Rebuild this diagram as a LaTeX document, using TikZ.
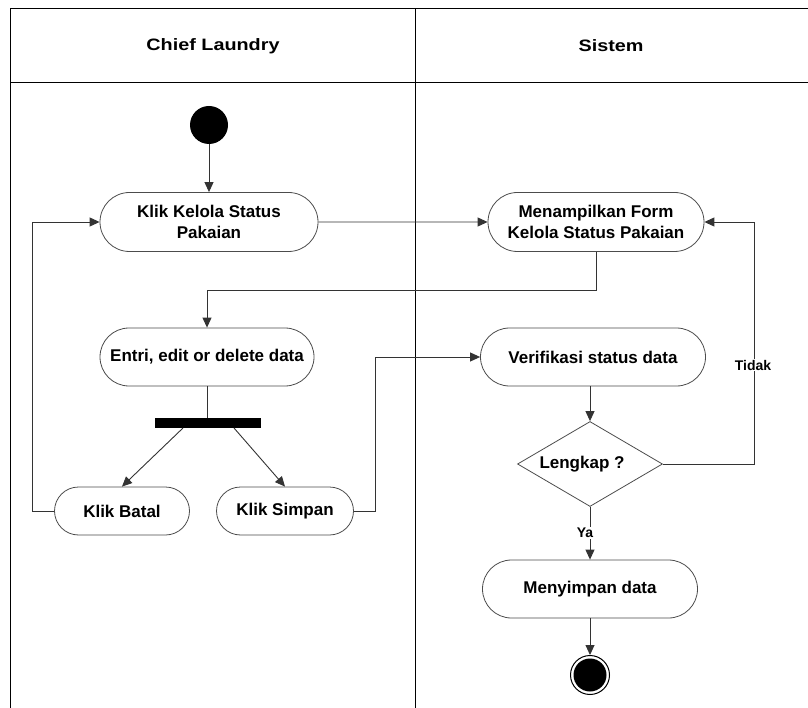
\documentclass[tikz,border=0pt]{standalone}
\usepackage{fontspec}
\setmainfont{Liberation Sans}
\newfontfamily\widefont[FakeStretch=1.2]{Liberation Sans}
\usetikzlibrary{arrows.meta,shapes.misc,shapes.geometric}

\tikzset{
  lane/.style={line width=1pt, draw=black},
  action/.style={rounded rectangle, draw=black!70, line width=0.8pt, fill=white,
    align=center, font=\bfseries\fontsize{17}{21}\selectfont, inner sep=2pt},
  decision/.style={diamond, draw=black!70, line width=0.8pt, fill=white,
    minimum width=145pt, minimum height=85pt, inner sep=0pt,
    font=\bfseries\fontsize{17}{21}\selectfont},
  bar/.style={rectangle, fill=black, minimum width=106pt, minimum height=10pt, inner sep=0pt},
  startnode/.style={circle, fill=black, minimum size=38pt, inner sep=0pt},
  flow/.style={draw=black!80, line width=0.9pt, -{Triangle[length=10pt,width=9pt]}},
  link/.style={draw=black!80, line width=0.9pt},
  guard/.style={font=\bfseries\fontsize{14}{16}\selectfont, fill=white, inner sep=1pt},
  title/.style={font=\widefont\bfseries\fontsize{16.5}{19}\selectfont}
}

\begin{document}
\begin{tikzpicture}[x=1pt, y=-1pt]
  \useasboundingbox (0,0) rectangle (808,708);

  % swimlane frame
  \draw[lane] (10,708) -- (10,9) -- (808,9);
  \draw[lane] (10,83) -- (808,83);
  \draw[lane] (415,9) -- (415,708);
  \node[title] (laneA) at (213,46) {Chief Laundry};
  \node[title] (laneB) at (611,46) {Sistem};

  % Chief Laundry actions
  \node[startnode] (start) at (209,125) {};
  \node[action, minimum width=222pt, minimum height=59pt] (kelola) at (209,222)
    {Klik Kelola Status\\Pakaian};
  \node[action, minimum width=218pt, minimum height=58pt] (entri) at (207,357)
    {Entri, edit or delete data};
  \node[bar] (fork) at (208,423) {};
  \node[action, minimum width=139pt, minimum height=48pt] (batal) at (122,511)
    {Klik Batal};
  \node[action, minimum width=141pt, minimum height=48pt] (simpan) at (285,511)
    {Klik Simpan};

  % Sistem actions
  \node[action, minimum width=220pt, minimum height=59pt] (form) at (596,222)
    {Menampilkan Form\\Kelola Status Pakaian};
  \node[action, minimum width=229pt, minimum height=58pt] (verif) at (593,357)
    {Verifikasi status data};
  \node[decision] (cek) at (590,464) {\hspace*{-16pt}Lengkap ?};
  \node[action, minimum width=219pt, minimum height=58pt] (save) at (590,589)
    {Menyimpan data};
  \node[circle, draw=black, line width=1pt, minimum size=39pt, inner sep=0pt] (stop) at (590,675) {};
  \node[circle, fill=black, minimum size=33pt, inner sep=0pt] (stopdot) at (590,675) {};

  % helper points for routed connectors
  \coordinate (b1) at (32,511);
  \coordinate (b2) at (32,222);
  \coordinate (s1) at (375,511);
  \coordinate (s2) at (375,357);
  \coordinate (f1) at (596,290);
  \coordinate (f2) at (207,290);
  \coordinate (t1) at (754,464);
  \coordinate (t2) at (754,222);
  \coordinate (fa) at (183,428);
  \coordinate (fb) at (234,428);

  % flows
  \draw[flow] (start) -- (kelola);
  \draw[flow] (kelola) -- (form);
  \draw[flow] (form.south) -- (f1) -- (f2) -- (entri.north);
  \draw[link] (entri.south) -- (entri.south |- fork.north);
  \draw[flow] (fa) -- (batal.north);
  \draw[flow] (fb) -- (simpan.north);
  \draw[flow] (batal.west) -- (b1) -- (b2) -- (kelola.west);
  \draw[flow] (simpan.east) -- (s1) -- (s2) -- (verif.west);
  \draw[flow] (verif.south -| cek.north) -- (cek.north);
  \draw[flow] (cek.east) -- (t1) -- (t2) -- (form.east);
  \node[guard] (tidak) at (753,365) {Tidak};
  \draw[flow] (cek.south) -- (save.north);
  \node[guard] (ya) at (585,533) {Ya};
  \draw[flow] (save.south) -- (stop.north);
\end{tikzpicture}
\end{document}
